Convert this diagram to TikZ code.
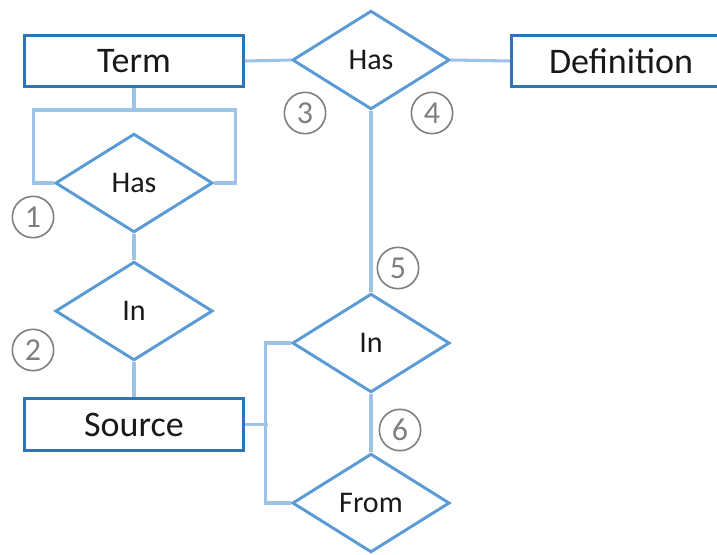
\documentclass[tikz,border=0pt]{standalone}
\usepackage{fontspec}
\setmainfont{Carlito}
\usetikzlibrary{shapes.geometric,calc}
\definecolor{boxblue}{HTML}{2E75B6}
\definecolor{dmdblue}{HTML}{5B9BD5}
\definecolor{linkblue}{HTML}{9DC3E6}
\definecolor{numgray}{HTML}{7F7F7F}
\tikzset{
  entity/.style={draw=boxblue, line width=2.3pt, fill=white, minimum width=164pt, minimum height=38.5pt, inner sep=0pt, font=\fontsize{27}{30}\selectfont, text=black!90},
  relation/.style={diamond, draw=dmdblue, line width=2.2pt, fill=white, minimum width=118pt, minimum height=74pt, inner sep=0pt, font=\fontsize{22.5}{26}\selectfont, text=black!90},
  conn/.style={draw=linkblue, line width=2.3pt},
  numcirc/.style={circle, draw=numgray, line width=1.2pt, minimum size=31pt, inner sep=0pt, text=numgray, font=\fontsize{24}{26}\selectfont}
}
\begin{document}
\begin{tikzpicture}[x=0.75pt,y=-0.75pt]
\clip (0,0) rectangle (717,554);
\fill[white] (0,0) rectangle (717,554);
\coordinate (j1) at (134,110);
% nodes
\node[entity] (term) at (134,61) {Term};
\node[entity] (def) at (621,61) {Definition};
\node[entity] (source) at (134,424.5) {Source};
\node[relation] (has1) at (134,183) {Has};
\node[relation] (in1) at (134,311) {In};
\node[relation] (hasT) at (371,60) {Has};
\node[relation] (in2) at (371,343) {In};
\node[relation] (from) at (371,503) {From};
% links
\path[conn] (term.south) -- (j1);
\path[conn] (has1.west) -- ++(-20,0) |- (j1) -| ($(has1.east)+(21,0)$) -- (has1.east);
\path[conn] (has1.south) -- (in1.north);
\path[conn] (in1.south) -- (source.north);
\path[conn] (term.east) -- (hasT.west);
\path[conn] (hasT.east) -- (def.west);
\path[conn] (hasT.south) -- (in2.north);
\path[conn] (in2.south) -- (from.north);
\path[conn] (source.east) -- ++(23,0) coordinate (j2);
\path[conn] (in2.west) -- ++(-25,0) |- (from.west);
% numbers
\node[numcirc] (n1) at (33,217) {1};
\node[numcirc] (n2) at (33,350) {2};
\node[numcirc] (n3) at (305,113) {3};
\node[numcirc] (n4) at (432,113) {4};
\node[numcirc] (n5) at (398,268) {5};
\node[numcirc] (n6) at (400,430) {6};
\end{tikzpicture}
\end{document}
